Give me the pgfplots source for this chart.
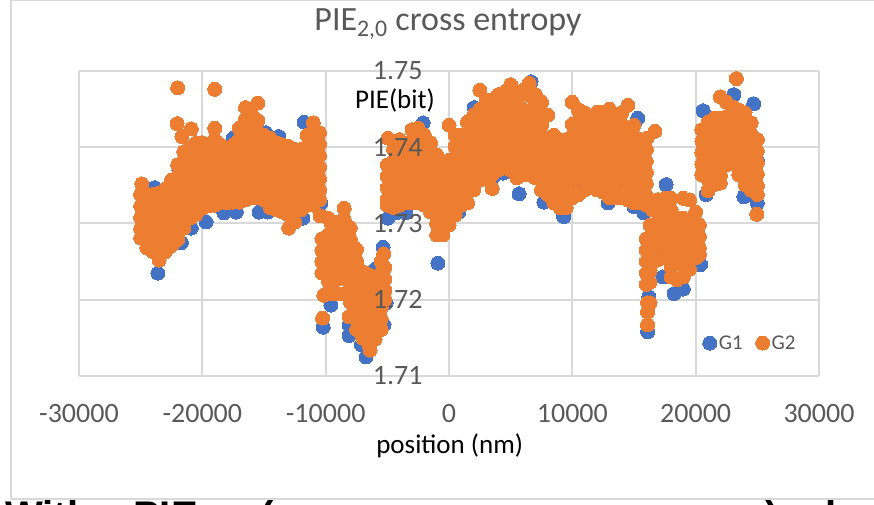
\documentclass[border=0pt]{standalone}
\usepackage{pgfplots}
\usepackage{fontspec}
\setmainfont{Carlito}
\newfontfamily\boldsans{Liberation Sans}
\pgfplotsset{compat=1.18}
\definecolor{gbl}{HTML}{4472C4}
\definecolor{gor}{HTML}{ED7D31}
\definecolor{gridc}{HTML}{D9D9D9}
\definecolor{txt}{HTML}{595959}
\begin{document}
\begin{tikzpicture}
\useasboundingbox (0pt,0pt) rectangle (874pt,505pt);
\draw[gridc,line width=1.5pt] (11pt,6pt) -- (11pt,505pt);
\draw[gridc,line width=1.5pt] (11pt,505pt) -- (874pt,505pt);
\draw[gridc,line width=1.5pt] (11pt,6pt) -- (874pt,6pt);
\begin{scope}
\clip (0pt,0pt) rectangle (874pt,5pt);
\node[anchor=base west,inner sep=0pt,font=\boldsans\fontsize{40}{40}\selectfont\bfseries] at (5pt,-25pt) {With};
\node[anchor=base west,inner sep=0pt,font=\boldsans\fontsize{40}{40}\selectfont\bfseries] at (133pt,-25pt) {PIE};
\node[anchor=base west,inner sep=0pt,font=\boldsans\fontsize{40}{40}\selectfont\bfseries] at (260pt,-25pt) {(};
\node[anchor=base west,inner sep=0pt,font=\boldsans\fontsize{40}{40}\selectfont\bfseries] at (765pt,-25pt) {)};
\node[anchor=base west,inner sep=0pt,font=\boldsans\fontsize{40}{40}\selectfont\bfseries] at (825pt,-25pt) {l};
\end{scope}
\begin{axis}[
  at={(79pt,129pt)},anchor=south west,
  scale only axis,width=740pt,height=305pt,
  xmin=-30000,xmax=30000,ymin=1.71,ymax=1.75,
  axis y line=center,axis x line=bottom,
  axis line style={gridc,line width=2pt,-},
  grid=major,grid style={gridc,line width=2pt},
  major tick length=0pt,
  scaled x ticks=false,
  xtick={-30000,-20000,-10000,0,10000,20000,30000},
  xticklabels={-30000,-20000,-10000,0,10000,20000,30000},
  ytick={1.71,1.72,1.73,1.74,1.75},
  yticklabels={},
  tick label style={text=txt,font=\fontsize{28}{28}\selectfont},
  xticklabel style={yshift=-25pt},
  title={PIE\textsubscript{2,0} cross entropy},
  title style={at={(rel axis cs:0.4986,1.134)},anchor=center,text=txt,font=\fontsize{34}{34}\selectfont},
  xlabel={position (nm)},
  every axis x label/.style={at={(rel axis cs:0.501,-0.2295)},anchor=center,font=\fontsize{27}{27}\selectfont},
  ylabel={PIE(bit)},
  every axis y label/.style={at={(rel axis cs:0.427,0.902)},anchor=center,font=\fontsize{27}{27}\selectfont},
  legend style={at={(rel axis cs:0.907,0.108)},anchor=center,draw=none,fill=none,font=\fontsize{21}{21}\selectfont,text=txt,legend columns=2,/tikz/every even column/.append style={column sep=11pt}},
]
\addplot[only marks,mark=*,mark size=7pt,color=gbl,mark options={draw=gbl,fill=gbl,line width=0pt}] coordinates {
(-24900,1.7324)(-24700,1.7279)(-24150,1.7266)(-23600,1.7235)(-23850,1.7347)(-21900,1.7370)(-21650,1.7379)(-21700,1.7275)(-20900,1.7294)(-19700,1.7302)(-18250,1.7314)(-17250,1.7315)(-15400,1.7315)(-14700,1.7315)(-14850,1.7419)(-13800,1.7414)(-17500,1.7412)(-15650,1.7433)(-11750,1.7433)(-11850,1.7307)(-10380,1.7327)
(-10200,1.7164)(-5350,1.7269)(-9570,1.7193)(-8100,1.7153)(-8100,1.7167)(-6730,1.7125)(-7100,1.7141)(-5100,1.7196)(-5270,1.7167)(-10200,1.7266)(-10200,1.7235)
(-900,1.7248)(5680,1.7339)(7700,1.7328)(9250,1.7311)(800,1.7315)(6650,1.7486)(-2100,1.7432)(2030,1.7452)(4380,1.7366)(3570,1.7361)(-4300,1.7314)(-3500,1.7314)(-4950,1.7307)
(9320,1.7309)(15300,1.7438)(12900,1.7327)(10700,1.7347)(17600,1.7351)(15000,1.7322)(15800,1.7314)
(16100,1.7158)(16200,1.7204)(18250,1.7208)(19000,1.7214)(20400,1.7246)(17350,1.7230)
(20600,1.7448)(23100,1.7469)(24700,1.7457)(20650,1.7364)(20800,1.7386)(20850,1.7338)(23900,1.7335)(25000,1.7327)(25000,1.7383)
(-20000,1.7395)(-20000,1.7360)(-20000,1.7325)(-16000,1.7420)(-16000,1.7380)(-16000,1.7340)(-12000,1.7390)(-12000,1.7350)(-8000,1.7270)(-8000,1.7220)(-6000,1.7240)(-6000,1.7180)(-3000,1.7390)(-3000,1.7340)(3000,1.7420)(3000,1.7380)(8000,1.7390)(8000,1.7350)(13000,1.7410)(13000,1.7360)(18000,1.7290)(18000,1.7250)(22000,1.7420)(22000,1.7370)(24000,1.7400)(24000,1.7360)
};
\addlegendentry{G1}
\addplot[only marks,mark=*,mark size=7pt,color=gor,mark options={draw=gor,fill=gor,line width=0pt}] coordinates {
(-22000,1.7478)(-19000,1.7476)(-22050,1.7431)(-20900,1.7424)(-21650,1.7414)(-24900,1.7352)
(-25000,1.7338)(-25000,1.7323)(-25000,1.7308)(-25000,1.7293)(-25000,1.7281)
(-24500,1.7337)(-24500,1.7322)(-24500,1.7307)(-24500,1.7292)(-24500,1.7277)(-24500,1.7268)
(-24000,1.7338)(-24000,1.7323)(-24000,1.7308)(-24000,1.7293)(-24000,1.7278)(-24000,1.7263)
(-23500,1.7340)(-23500,1.7325)(-23500,1.7310)(-23500,1.7295)(-23500,1.7280)(-23500,1.7265)(-23500,1.7252)
(-23000,1.7345)(-23000,1.7330)(-23000,1.7315)(-23000,1.7300)(-23000,1.7285)(-23000,1.7270)(-23000,1.7263)
(-22500,1.7357)(-22500,1.7342)(-22500,1.7327)(-22500,1.7312)(-22500,1.7297)(-22500,1.7282)(-22500,1.7271)
(-22000,1.7377)(-22000,1.7362)(-22000,1.7347)(-22000,1.7332)(-22000,1.7317)(-22000,1.7302)(-22000,1.7287)(-22000,1.7279)
(-21500,1.7394)(-21500,1.7380)(-21500,1.7365)(-21500,1.7350)(-21500,1.7335)(-21500,1.7320)(-21500,1.7305)(-21500,1.7294)
(-21000,1.7399)(-21000,1.7385)(-21000,1.7370)(-21000,1.7355)(-21000,1.7340)(-21000,1.7325)(-21000,1.7307)
(-20500,1.7406)(-20500,1.7390)(-20500,1.7375)(-20500,1.7360)(-20500,1.7345)(-20500,1.7330)(-20500,1.7312)
(-20000,1.7406)(-20000,1.7392)(-20000,1.7377)(-20000,1.7362)(-20000,1.7347)(-20000,1.7332)(-20000,1.7320)
(-19500,1.7403)(-19500,1.7388)(-19500,1.7373)(-19500,1.7358)(-19500,1.7343)(-19500,1.7328)(-19500,1.7323)
(-19000,1.7425)(-19000,1.7410)(-19000,1.7395)(-19000,1.7380)(-19000,1.7365)(-19000,1.7350)(-19000,1.7335)(-19000,1.7324)
(-18500,1.7403)(-18500,1.7388)(-18500,1.7373)(-18500,1.7358)(-18500,1.7343)(-18500,1.7328)
(-18000,1.7399)(-18000,1.7384)(-18000,1.7369)(-18000,1.7354)(-18000,1.7339)(-18000,1.7327)
(-17500,1.7403)(-17500,1.7388)(-17500,1.7373)(-17500,1.7358)(-17500,1.7343)(-17500,1.7328)
(-17000,1.7425)(-17000,1.7410)(-17000,1.7395)(-17000,1.7380)(-17000,1.7365)(-17000,1.7350)(-17000,1.7335)(-17000,1.7328)
(-16500,1.7452)(-16500,1.7437)(-16500,1.7422)(-16500,1.7407)(-16500,1.7392)(-16500,1.7377)(-16500,1.7362)(-16500,1.7347)(-16500,1.7331)
(-16000,1.7442)(-16000,1.7427)(-16000,1.7412)(-16000,1.7397)(-16000,1.7382)(-16000,1.7367)(-16000,1.7352)(-16000,1.7334)
(-15500,1.7458)(-15500,1.7435)(-15500,1.7420)(-15500,1.7405)(-15500,1.7390)(-15500,1.7375)(-15500,1.7360)(-15500,1.7345)(-15500,1.7334)
(-15000,1.7416)(-15000,1.7401)(-15000,1.7386)(-15000,1.7371)(-15000,1.7356)(-15000,1.7341)(-15000,1.7331)
(-14500,1.7412)(-14500,1.7397)(-14500,1.7382)(-14500,1.7367)(-14500,1.7352)(-14500,1.7337)(-14500,1.7321)
(-14000,1.7406)(-14000,1.7391)(-14000,1.7376)(-14000,1.7361)(-14000,1.7346)(-14000,1.7331)(-14000,1.7318)
(-13500,1.7403)(-13500,1.7388)(-13500,1.7373)(-13500,1.7358)(-13500,1.7343)(-13500,1.7328)(-13500,1.7315)
(-13000,1.7401)(-13000,1.7386)(-13000,1.7371)(-13000,1.7356)(-13000,1.7341)(-13000,1.7326)(-13000,1.7311)(-13000,1.7294)
(-12500,1.7397)(-12500,1.7382)(-12500,1.7367)(-12500,1.7352)(-12500,1.7337)(-12500,1.7322)(-12500,1.7302)
(-12000,1.7397)(-12000,1.7382)(-12000,1.7367)(-12000,1.7352)(-12000,1.7337)(-12000,1.7318)
(-11500,1.7416)(-11500,1.7401)(-11500,1.7386)(-11500,1.7371)(-11500,1.7356)(-11500,1.7341)(-11500,1.7324)
(-11000,1.7432)(-11000,1.7417)(-11000,1.7402)(-11000,1.7387)(-11000,1.7372)(-11000,1.7357)(-11000,1.7342)(-11000,1.7324)
(-10500,1.7419)(-10500,1.7404)(-10500,1.7389)(-10500,1.7374)(-10500,1.7359)(-10500,1.7344)(-10500,1.7331)(-10450,1.7310)
(-10300,1.7280)(-10300,1.7265)(-10300,1.7250)(-10300,1.7235)(-10250,1.7176)(-10150,1.7206)
(-9800,1.7307)(-9800,1.7285)(-9800,1.7270)(-9800,1.7255)(-9800,1.7240)(-9800,1.7225)(-9800,1.7210)
(-9500,1.7297)(-9500,1.7282)(-9500,1.7267)(-9500,1.7252)(-9500,1.7237)(-9500,1.7222)(-9500,1.7208)
(-9000,1.7302)(-9000,1.7287)(-9000,1.7272)(-9000,1.7257)(-9000,1.7242)(-9000,1.7227)(-9000,1.7208)
(-8500,1.7320)(-8500,1.7305)(-8500,1.7290)(-8500,1.7275)(-8500,1.7260)(-8500,1.7245)(-8500,1.7230)(-8500,1.7208)
(-8000,1.7294)(-8000,1.7279)(-8000,1.7264)(-8000,1.7249)(-8000,1.7234)(-8000,1.7219)(-8000,1.7197)(-8100,1.7178)
(-7500,1.7266)(-7500,1.7251)(-7500,1.7236)(-7500,1.7221)(-7500,1.7206)(-7500,1.7191)(-7500,1.7176)(-7500,1.7161)
(-7000,1.7237)(-7000,1.7222)(-7000,1.7207)(-7000,1.7192)(-7000,1.7177)(-7000,1.7162)(-7000,1.7150)
(-6500,1.7233)(-6500,1.7218)(-6500,1.7203)(-6500,1.7188)(-6500,1.7173)(-6500,1.7158)(-6500,1.7141)(-6400,1.7134)
(-6000,1.7230)(-6000,1.7215)(-6000,1.7200)(-6000,1.7185)(-6000,1.7170)(-6000,1.7155)(-6000,1.7148)
(-5500,1.7250)(-5500,1.7235)(-5500,1.7220)(-5500,1.7205)(-5500,1.7190)(-5500,1.7175)(-5500,1.7161)
(-5300,1.7260)(-5200,1.7242)(-5200,1.7227)(-5200,1.7212)(-5200,1.7200)
(-4950,1.7412)(-5000,1.7377)(-5000,1.7362)(-5000,1.7347)(-5000,1.7332)(-5000,1.7324)
(-4500,1.7397)(-4500,1.7382)(-4500,1.7367)(-4500,1.7352)(-4500,1.7337)(-4500,1.7321)
(-4000,1.7410)(-4000,1.7395)(-4000,1.7380)(-4000,1.7365)(-4000,1.7350)(-4000,1.7335)(-4000,1.7324)
(-3500,1.7403)(-3500,1.7388)(-3500,1.7373)(-3500,1.7358)(-3500,1.7343)(-3500,1.7327)
(-3000,1.7423)(-3000,1.7408)(-3000,1.7393)(-3000,1.7378)(-3000,1.7363)(-3000,1.7348)(-3000,1.7333)(-3000,1.7327)
(-2500,1.7425)(-2500,1.7410)(-2500,1.7395)(-2500,1.7380)(-2500,1.7365)(-2500,1.7350)(-2500,1.7335)(-2500,1.7327)
(-2000,1.7416)(-2000,1.7401)(-2000,1.7386)(-2000,1.7371)(-2000,1.7356)(-2000,1.7341)(-2000,1.7324)
(-1500,1.7406)(-1500,1.7391)(-1500,1.7376)(-1500,1.7361)(-1500,1.7346)(-1500,1.7331)(-1500,1.7315)
(-1000,1.7390)(-1000,1.7375)(-1000,1.7360)(-1000,1.7345)(-1000,1.7330)(-1000,1.7315)(-1000,1.7300)(-1000,1.7285)
(-500,1.7373)(-500,1.7358)(-500,1.7343)(-500,1.7328)(-500,1.7313)(-500,1.7298)(-500,1.7285)
(0,1.7429)(0,1.7383)(0,1.7368)(0,1.7353)(0,1.7338)(0,1.7323)(0,1.7308)(0,1.7298)
(500,1.7416)(500,1.7401)(500,1.7386)(500,1.7371)(500,1.7356)(500,1.7341)(500,1.7326)(500,1.7311)
(1000,1.7416)(1000,1.7401)(1000,1.7386)(1000,1.7371)(1000,1.7356)(1000,1.7341)(1000,1.7324)
(1500,1.7433)(1500,1.7418)(1500,1.7403)(1500,1.7388)(1500,1.7373)(1500,1.7358)(1500,1.7343)(1500,1.7327)
(2000,1.7442)(2000,1.7427)(2000,1.7412)(2000,1.7397)(2000,1.7382)(2000,1.7367)(2000,1.7352)(2000,1.7344)
(2500,1.7475)(2500,1.7450)(2500,1.7435)(2500,1.7420)(2500,1.7405)(2500,1.7390)(2500,1.7375)(2500,1.7357)
(3000,1.7462)(3000,1.7447)(3000,1.7432)(3000,1.7417)(3000,1.7402)(3000,1.7387)(3000,1.7372)(3000,1.7362)
(3500,1.7462)(3500,1.7447)(3500,1.7432)(3500,1.7417)(3500,1.7402)(3500,1.7387)(3500,1.7372)(3500,1.7364)(3500,1.7346)
(4000,1.7469)(4000,1.7454)(4000,1.7439)(4000,1.7424)(4000,1.7409)(4000,1.7394)(4000,1.7379)(4000,1.7370)
(4500,1.7472)(4500,1.7457)(4500,1.7442)(4500,1.7427)(4500,1.7412)(4500,1.7397)(4500,1.7383)
(5000,1.7482)(5000,1.7467)(5000,1.7452)(5000,1.7437)(5000,1.7422)(5000,1.7407)(5000,1.7392)(5000,1.7377)(5000,1.7370)
(5500,1.7462)(5500,1.7447)(5500,1.7432)(5500,1.7417)(5500,1.7402)(5500,1.7387)(5500,1.7372)(5500,1.7360)
(6000,1.7475)(6000,1.7450)(6000,1.7435)(6000,1.7420)(6000,1.7405)(6000,1.7390)(6000,1.7375)(6000,1.7364)
(6500,1.7484)(6500,1.7468)(6500,1.7445)(6500,1.7430)(6500,1.7415)(6500,1.7400)(6500,1.7385)(6500,1.7370)(6500,1.7364)
(7000,1.7469)(7000,1.7454)(7000,1.7439)(7000,1.7424)(7000,1.7409)(7000,1.7394)(7000,1.7379)(7000,1.7360)
(7500,1.7459)(7500,1.7444)(7500,1.7429)(7500,1.7414)(7500,1.7399)(7500,1.7384)(7500,1.7369)(7500,1.7344)
(8000,1.7442)(8000,1.7412)(8000,1.7397)(8000,1.7382)(8000,1.7367)(8000,1.7352)(8000,1.7338)
(8500,1.7416)(8500,1.7401)(8500,1.7386)(8500,1.7371)(8500,1.7356)(8500,1.7341)(8500,1.7327)
(9000,1.7410)(9000,1.7395)(9000,1.7380)(9000,1.7365)(9000,1.7350)(9000,1.7335)(9000,1.7321)
(9500,1.7410)(9500,1.7395)(9500,1.7380)(9500,1.7365)(9500,1.7350)(9500,1.7335)(9500,1.7321)
(10000,1.7459)(10000,1.7430)(10000,1.7415)(10000,1.7400)(10000,1.7385)(10000,1.7370)(10000,1.7355)(10000,1.7334)
(10500,1.7449)(10500,1.7434)(10500,1.7419)(10500,1.7404)(10500,1.7389)(10500,1.7374)(10500,1.7359)(10500,1.7338)
(11000,1.7445)(11000,1.7430)(11000,1.7415)(11000,1.7400)(11000,1.7385)(11000,1.7370)(11000,1.7355)(11000,1.7344)
(11500,1.7438)(11500,1.7423)(11500,1.7408)(11500,1.7393)(11500,1.7378)(11500,1.7363)(11500,1.7348)
(12000,1.7446)(12000,1.7431)(12000,1.7416)(12000,1.7401)(12000,1.7386)(12000,1.7371)(12000,1.7356)(12000,1.7344)
(12500,1.7446)(12500,1.7431)(12500,1.7416)(12500,1.7401)(12500,1.7386)(12500,1.7371)(12500,1.7356)(12500,1.7341)
(13000,1.7450)(13000,1.7435)(13000,1.7420)(13000,1.7405)(13000,1.7390)(13000,1.7375)(13000,1.7360)(13000,1.7345)(13000,1.7334)
(13500,1.7433)(13500,1.7418)(13500,1.7403)(13500,1.7388)(13500,1.7373)(13500,1.7358)(13500,1.7343)(13500,1.7334)
(14000,1.7445)(14000,1.7430)(14000,1.7415)(14000,1.7400)(14000,1.7385)(14000,1.7370)(14000,1.7355)(14000,1.7334)
(14500,1.7455)(14500,1.7425)(14500,1.7410)(14500,1.7395)(14500,1.7380)(14500,1.7365)(14500,1.7350)(14500,1.7331)
(15000,1.7429)(15000,1.7414)(15000,1.7399)(15000,1.7384)(15000,1.7369)(15000,1.7354)(15000,1.7339)(15000,1.7327)
(15500,1.7410)(15500,1.7395)(15500,1.7380)(15500,1.7365)(15500,1.7350)(15500,1.7335)(15500,1.7327)
(16050,1.7412)(16000,1.7397)(16000,1.7382)(16000,1.7367)(16000,1.7352)(16000,1.7337)(16000,1.7324)(16700,1.7421)(16500,1.7318)
(16000,1.7280)(16000,1.7265)(16000,1.7250)(16000,1.7235)(16000,1.7220)(16100,1.7196)(16100,1.7184)(16100,1.7167)
(16300,1.7298)(16300,1.7283)(16300,1.7268)(16300,1.7253)(16300,1.7238)(16300,1.7223)(16300,1.7196)
(16900,1.7331)(16900,1.7316)(16900,1.7301)(16900,1.7286)(16900,1.7271)(16900,1.7252)
(17000,1.7331)(17500,1.7333)(17500,1.7318)(17500,1.7303)(17500,1.7288)(17500,1.7273)(17500,1.7255)
(18000,1.7333)(18000,1.7318)(18000,1.7303)(18000,1.7288)(18000,1.7273)(18000,1.7258)(18000,1.7243)(18000,1.7230)
(18500,1.7307)(18500,1.7292)(18500,1.7277)(18500,1.7262)(18500,1.7247)(18500,1.7226)
(19000,1.7333)(19000,1.7307)(19000,1.7292)(19000,1.7277)(19000,1.7262)(19000,1.7247)(19000,1.7230)
(19500,1.7331)(19500,1.7300)(19500,1.7285)(19500,1.7270)(19500,1.7255)(19500,1.7240)
(20000,1.7315)(20000,1.7300)(20000,1.7285)(20000,1.7270)(20000,1.7255)
(20300,1.7298)(20300,1.7283)(20300,1.7268)(20300,1.7259)
(20500,1.7423)(20500,1.7408)(20500,1.7393)(20500,1.7378)(20500,1.7364)
(21000,1.7433)(21000,1.7418)(21000,1.7403)(21000,1.7388)(21000,1.7373)(21000,1.7358)(21000,1.7343)
(21500,1.7438)(21500,1.7423)(21500,1.7408)(21500,1.7393)(21500,1.7378)(21500,1.7363)(21500,1.7351)
(22000,1.7466)(22000,1.7438)(22000,1.7423)(22000,1.7408)(22000,1.7393)(22000,1.7378)(22000,1.7363)(22000,1.7353)
(22500,1.7459)(22500,1.7440)(22500,1.7425)(22500,1.7410)(22500,1.7395)(22500,1.7377)
(23000,1.7453)(23000,1.7438)(23000,1.7423)(23000,1.7408)(23000,1.7393)(23000,1.7383)
(23300,1.7490)
(23500,1.7449)(23500,1.7434)(23500,1.7419)(23500,1.7404)(23500,1.7389)(23500,1.7374)(23500,1.7364)
(24000,1.7445)(24000,1.7430)(24000,1.7415)(24000,1.7400)(24000,1.7385)(24000,1.7370)(24000,1.7351)
(24500,1.7432)(24500,1.7417)(24500,1.7402)(24500,1.7387)(24500,1.7372)(24500,1.7357)(24500,1.7344)
(25000,1.7410)(25000,1.7395)(25000,1.7380)(25000,1.7365)(25000,1.7350)(25000,1.7338)(24950,1.7312)
};
\addlegendentry{G2}
\end{axis}
\begin{axis}[
  at={(79pt,129pt)},anchor=south west,
  scale only axis,width=740pt,height=305pt,
  xmin=-30000,xmax=30000,ymin=1.71,ymax=1.75,
  axis y line=center,axis x line=none,
  axis line style={draw=none},
  major tick length=0pt,
  ytick={1.71,1.72,1.73,1.74,1.75},
  yticklabels={1.71,1.72,1.73,1.74,1.75},
  tick label style={text=txt,font=\fontsize{28}{28}\selectfont},
  yticklabel style={xshift=-23pt},
]
\end{axis}
\end{tikzpicture}
\end{document}
